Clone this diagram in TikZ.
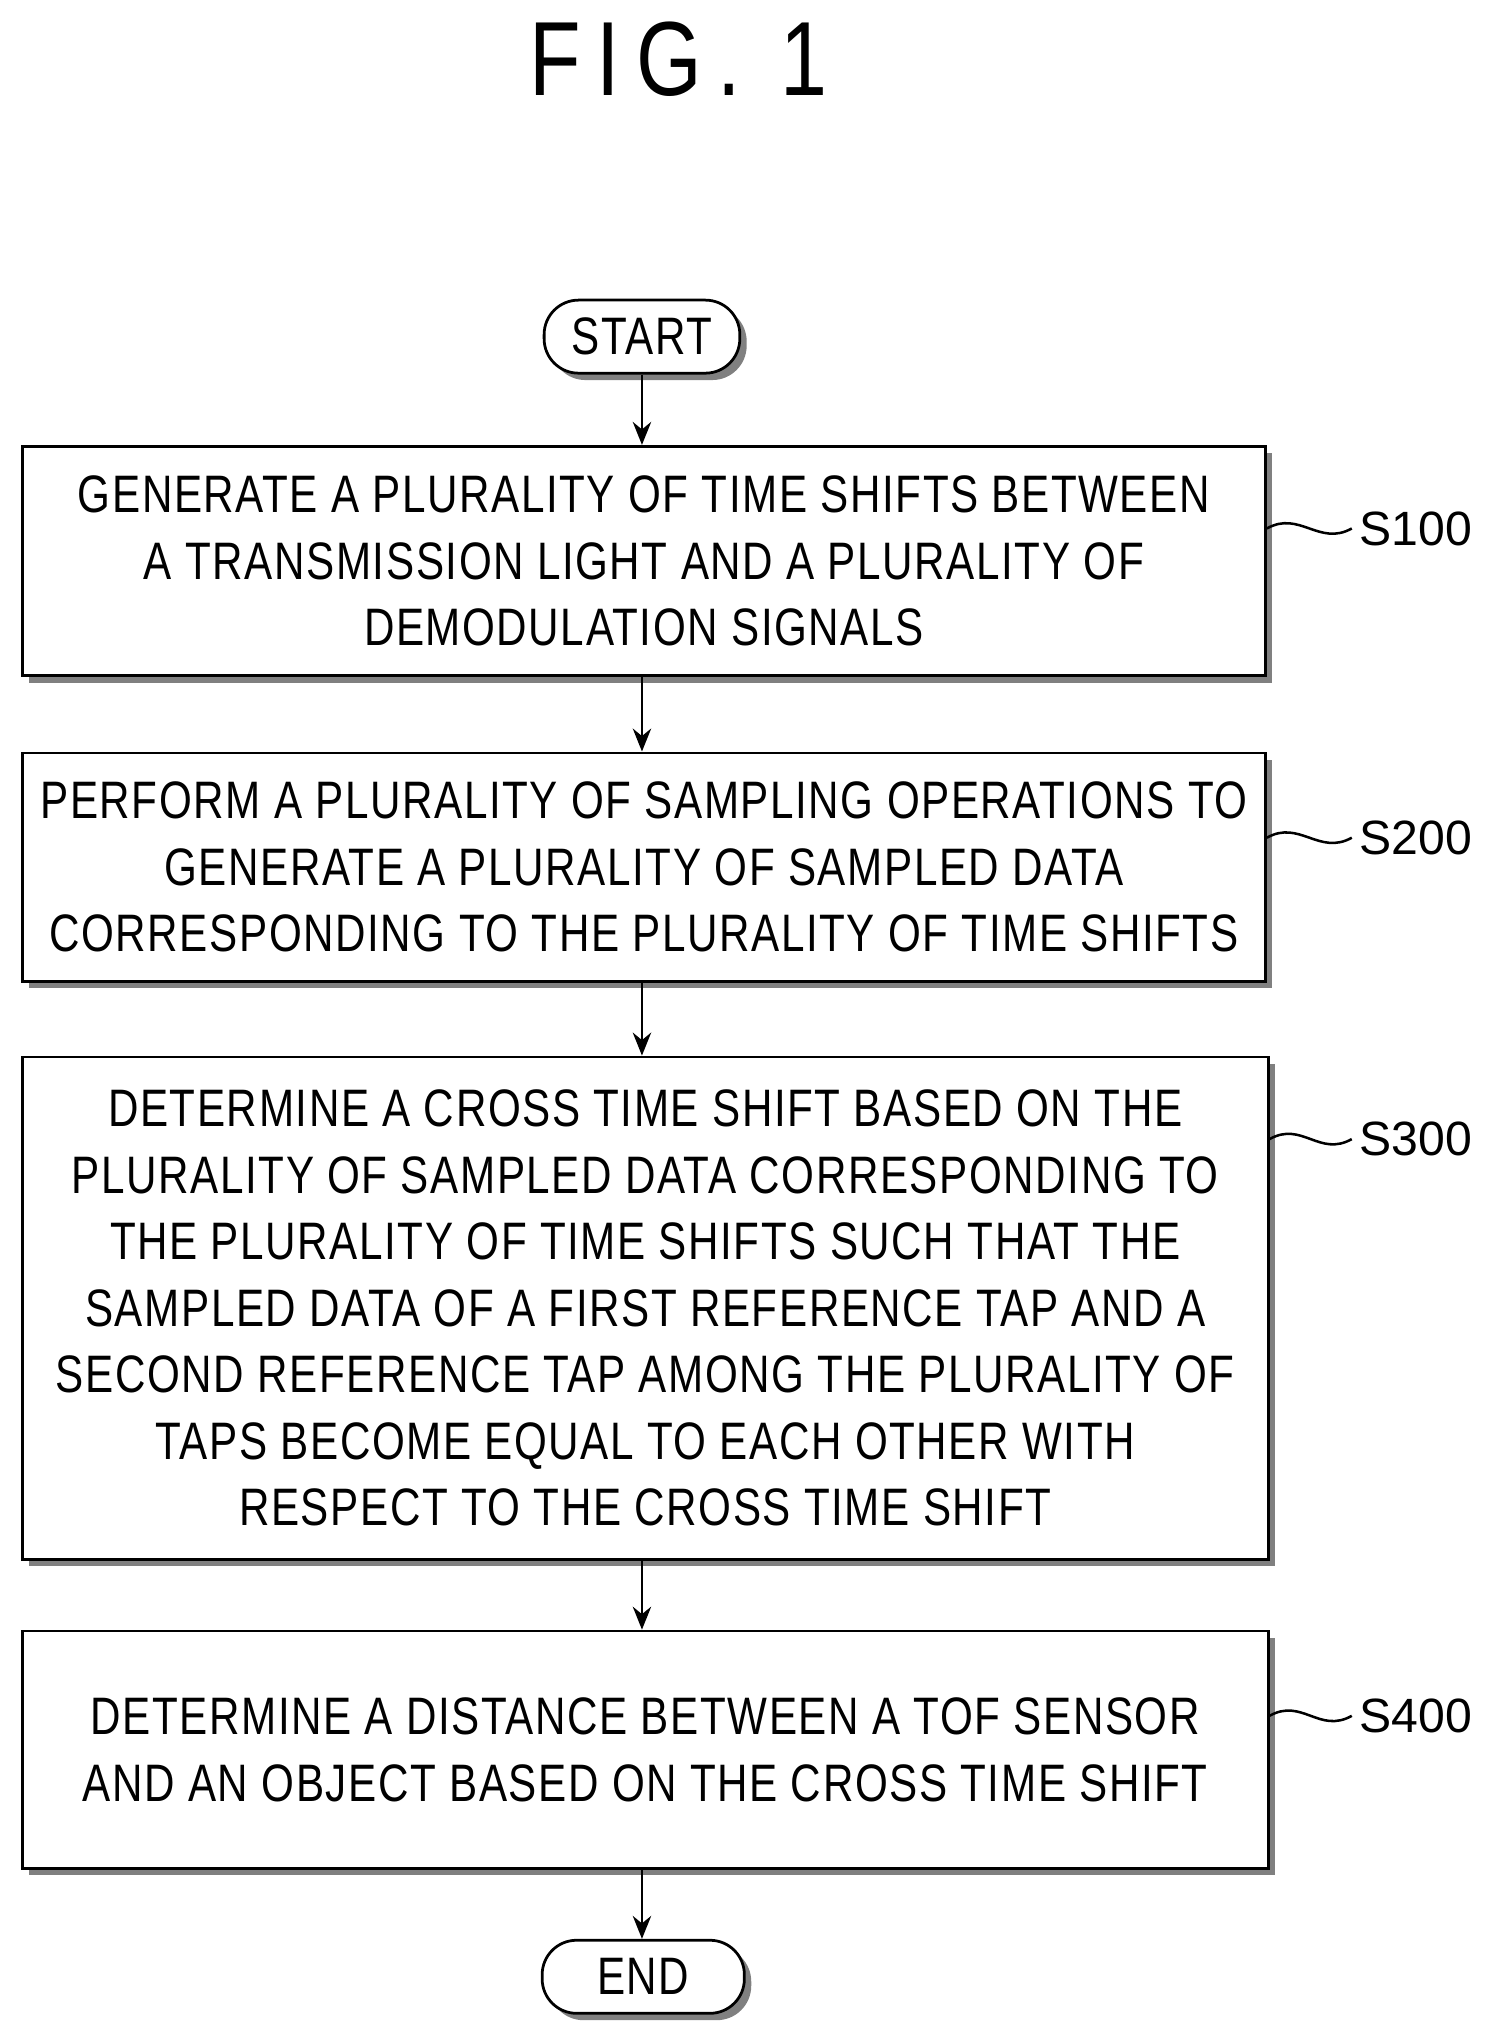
\documentclass[tikz,border=0pt]{standalone}
\usepackage{fontspec}
\setmainfont{Liberation Sans}[FakeStretch=0.8, LetterSpace=3]
\newfontfamily\labelfont{Liberation Sans}
\usetikzlibrary{shadows,arrows.meta,calc}
\begin{document}
\begin{tikzpicture}[x=0.02cm, y=-0.02cm,
  stepbox/.style={draw, line width=1.2pt, fill=white, align=center,
    font=\fontsize{23}{29}\selectfont,
    drop shadow={opacity=1, shadow xshift=3pt, shadow yshift=-3pt}},
  terminal/.style={stepbox, rounded corners=15pt, minimum width=3cm, minimum height=1.12cm},
  flow/.style={-{Stealth[length=10pt,width=8pt]}, line width=1.2pt},
  steplabel/.style={font=\labelfont\fontsize{21}{25}\selectfont, anchor=west}]

  \useasboundingbox (0,0) rectangle (1140,1565);

  % Title
  \node (title) at (520,45) {\fontsize{46}{50}\selectfont\addfontfeature{LetterSpace=15}FIG. 1};

  % Terminals
  \node[terminal] (start) at (492,258) {START};
  \node[terminal, minimum width=3.1cm] (end) at (493,1515) {END};

  % Steps
  \node[stepbox, minimum width=19.06cm, minimum height=3.52cm] (s100) at (493.5,430)
    {GENERATE A PLURALITY OF TIME SHIFTS BETWEEN\\A TRANSMISSION LIGHT AND A PLURALITY OF\\DEMODULATION SIGNALS};
  \node[stepbox, minimum width=19.06cm, minimum height=3.5cm] (s200) at (493.5,664.5)
    {PERFORM A PLURALITY OF SAMPLING OPERATIONS TO\\GENERATE A PLURALITY OF SAMPLED DATA\\CORRESPONDING TO THE PLURALITY OF TIME SHIFTS};
  \node[stepbox, minimum width=19.1cm, minimum height=7.7cm] (s300) at (494.5,1002.5)
    {DETERMINE A CROSS TIME SHIFT BASED ON THE\\PLURALITY OF SAMPLED DATA CORRESPONDING TO\\THE PLURALITY OF TIME SHIFTS SUCH THAT THE\\SAMPLED DATA OF A FIRST REFERENCE TAP AND A\\SECOND REFERENCE TAP AMONG THE PLURALITY OF\\TAPS BECOME EQUAL TO EACH OTHER WITH\\RESPECT TO THE CROSS TIME SHIFT};
  \node[stepbox, minimum width=19.1cm, minimum height=3.64cm] (s400) at (494.5,1341)
    {DETERMINE A DISTANCE BETWEEN A TOF SENSOR\\AND AN OBJECT BASED ON THE CROSS TIME SHIFT};

  % Arrows
  \draw[flow] (start.south) -- (start.south |- s100.north);
  \draw[flow] (start.south |- s100.south) -- (start.south |- s200.north);
  \draw[flow] (start.south |- s200.south) -- (start.south |- s300.north);
  \draw[flow] (start.south |- s300.south) -- (start.south |- s400.north);
  \draw[flow] (start.south |- s400.south) -- (start.south |- end.north);

  % Step labels
  \foreach \s/\t/\y in {s100/S100/405, s200/S200/642, s300/S300/873, s400/S400/1315} {
    \node[steplabel] (l\s) at (1036,\y) {\t};
    \coordinate (w\s) at (\s.east |- 0,\y);
    \draw[line width=1.1pt] (w\s) .. controls ($(w\s)+(25,-14)$) and ($(l\s.west)+(-25,14)$) .. (l\s.west);
  }

\end{tikzpicture}
\end{document}
